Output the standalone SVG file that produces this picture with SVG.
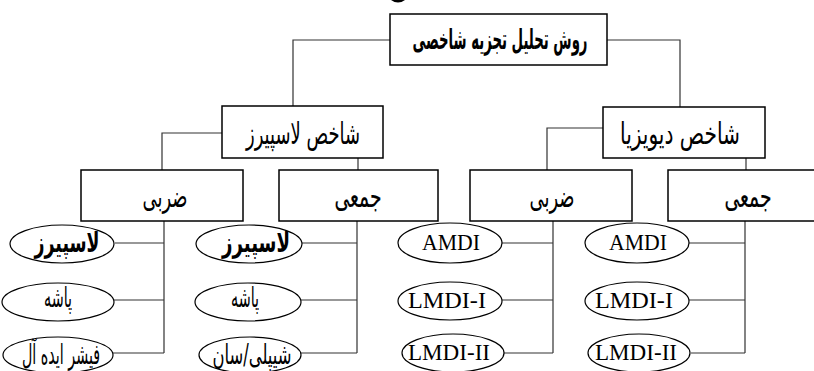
<svg xmlns="http://www.w3.org/2000/svg" width="814" height="371" viewBox="0 0 814 371">
<style>
.box{fill:#fff;stroke:#000;stroke-width:1.5}
.ell{fill:#fff;stroke:#000;stroke-width:1.2}
.con{fill:none;stroke:#333;stroke-width:1.2}
text{text-anchor:middle;fill:#000}
.fa{font-family:"DejaVu Sans","Liberation Serif",serif;font-size:30px}
.fae{font-family:"DejaVu Sans","Liberation Serif",serif;font-size:28px}
.fam{font-family:"DejaVu Sans","Liberation Serif",serif;font-size:30px;stroke:#000;stroke-width:0.2}
.fab{font-family:"DejaVu Sans","Liberation Serif",serif;font-size:28px;font-weight:bold}
.en{font-family:"Liberation Serif",serif;font-size:23px}
</style>
<rect width="814" height="371" fill="#fff"/>
<path d="M391 0 Q398 5 405 0 Z" fill="#000"/>
<g id="connectors">
<path class="con" d="M390 40 H293 V106"/>
<path class="con" d="M607 40 H680 V107"/>
<path class="con" d="M222 133 H162 V170"/>
<path class="con" d="M358 158 V170"/>
<path class="con" d="M603 128 H547 V170"/>
<path class="con" d="M746 158 V170"/>
<path class="con" d="M164 221 V353 M115 243 H164 M114 300 H164 M113 353 H164"/>
<path class="con" d="M357 221 V353 M302 243 H357 M301 300 H357 M300 353 H357"/>
<path class="con" d="M553 221 V353 M502 243 H553 M502 300 H553 M504 353 H553"/>
<path class="con" d="M745 221 V353 M689 243 H745 M689 300 H745 M691 353 H745"/>
</g>
<g id="root"><rect class="box" x="390" y="14" width="217" height="51"/><text class="fab" x="500" y="49" textLength="175" lengthAdjust="spacingAndGlyphs">روش تحلیل تجزیه شاخصی</text></g>
<g id="laspeyres"><rect class="box" x="222" y="106" width="161" height="52"/><text class="fa" x="303" y="144" textLength="114" lengthAdjust="spacingAndGlyphs">شاخص لاسپیرز</text></g>
<g id="divisia"><rect class="box" x="603" y="107" width="162" height="51"/><text class="fa" x="680" y="144" textLength="120" lengthAdjust="spacingAndGlyphs">شاخص دیویزیا</text></g>
<g id="l-zarbi"><rect class="box" x="81" y="170" width="162" height="51"/><text class="fa" x="165" y="207" textLength="45" lengthAdjust="spacingAndGlyphs">ضربی</text></g>
<g id="l-jami"><rect class="box" x="279" y="170" width="159" height="51"/><text class="fam" x="358" y="207" textLength="47" lengthAdjust="spacingAndGlyphs">جمعی</text></g>
<g id="d-zarbi"><rect class="box" x="470" y="170" width="162" height="51"/><text class="fa" x="552" y="207" textLength="45" lengthAdjust="spacingAndGlyphs">ضربی</text></g>
<g id="d-jami"><rect class="box" x="668" y="170" width="150" height="51"/><text class="fam" x="748" y="207" textLength="47" lengthAdjust="spacingAndGlyphs">جمعی</text></g>
<g id="l-z-laspeyres"><ellipse class="ell" cx="62" cy="244" rx="52" ry="19"/><text class="fab" x="67" y="252" textLength="65" lengthAdjust="spacingAndGlyphs">لاسپیرز</text></g>
<g id="l-z-pasche"><ellipse class="ell" cx="58" cy="302" rx="56" ry="19"/><text class="fae" x="58" y="307" textLength="28" lengthAdjust="spacingAndGlyphs">پاشه</text></g>
<g id="l-z-fisher"><ellipse class="ell" cx="58" cy="355" rx="55" ry="18"/><text class="fae" x="61" y="364" textLength="78" lengthAdjust="spacingAndGlyphs">فیشر ایده آل</text></g>
<g id="l-j-laspeyres"><ellipse class="ell" cx="249" cy="244" rx="53" ry="19"/><text class="fab" x="256" y="252" textLength="68" lengthAdjust="spacingAndGlyphs">لاسپیرز</text></g>
<g id="l-j-pasche"><ellipse class="ell" cx="248" cy="302" rx="53" ry="19"/><text class="fae" x="245" y="307" textLength="28" lengthAdjust="spacingAndGlyphs">پاشه</text></g>
<g id="l-j-shapley"><ellipse class="ell" cx="250" cy="355" rx="51" ry="18"/><text class="fae" x="252" y="364" textLength="79" lengthAdjust="spacingAndGlyphs">شیپلی/سان</text></g>
<g id="d-z-amdi"><ellipse class="ell" cx="450" cy="243" rx="52" ry="20"/><text class="en" x="451" y="250" textLength="58" lengthAdjust="spacingAndGlyphs">AMDI</text></g>
<g id="d-z-lmdi1"><ellipse class="ell" cx="450" cy="301" rx="52" ry="19"/><text class="en" x="447" y="308" textLength="78" lengthAdjust="spacingAndGlyphs">LMDI-I</text></g>
<g id="d-z-lmdi2"><ellipse class="ell" cx="453" cy="353" rx="51" ry="19"/><text class="en" x="449" y="360" textLength="82" lengthAdjust="spacingAndGlyphs">LMDI-II</text></g>
<g id="d-j-amdi"><ellipse class="ell" cx="637" cy="243" rx="52" ry="20"/><text class="en" x="638" y="250" textLength="58" lengthAdjust="spacingAndGlyphs">AMDI</text></g>
<g id="d-j-lmdi1"><ellipse class="ell" cx="637" cy="301" rx="52" ry="19"/><text class="en" x="634" y="308" textLength="78" lengthAdjust="spacingAndGlyphs">LMDI-I</text></g>
<g id="d-j-lmdi2"><ellipse class="ell" cx="639" cy="353" rx="51" ry="19"/><text class="en" x="636" y="360" textLength="82" lengthAdjust="spacingAndGlyphs">LMDI-II</text></g>
</svg>
